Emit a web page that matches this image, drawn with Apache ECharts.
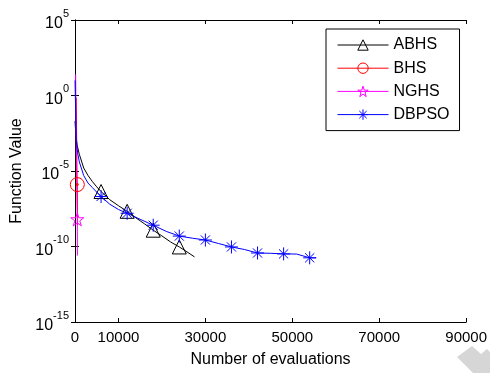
<!DOCTYPE html>
<html>
<head>
<meta charset="utf-8">
<script src="https://cdn.jsdelivr.net/npm/echarts@6/dist/echarts.min.js"></script>
<style>html,body{margin:0;padding:0;background:#fff;}#c{width:490px;height:373px;}</style>
</head>
<body>
<div id="c"></div>
<script>
// ---- data (log10 of function value) ----
const abhsX = [0, 200, 500, 1000, 2000, 3000, 4000, 5000, 6000, 8000, 10000, 12000, 14000, 16000, 18000, 20000, 22000, 24000, 26000, 27500];
const abhsLog = [-1.7, -2.6, -3.3, -3.9, -4.8, -5.3, -5.7, -6.05, -6.36, -6.9, -7.3, -7.67, -8.1, -8.5, -8.92, -9.3, -9.7, -10.03, -10.4, -10.69];
const abhsMarks = [8, 11, 14, 17];

const bhsX = [300, 350, 400, 450, 530, 600];
const bhsLog = [-0.15, -2.0, -3.5, -4.8, -5.9, -8.6];
const bhsMarks = [4];

const nghsX = [150, 250, 350, 450, 530, 560];
const nghsLog = [1.4, -2.0, -5.0, -7.0, -8.2, -10.6];
const nghsMarks = [4];

const dbpsoX = [0, 300, 600, 1000, 2000, 3000, 4000, 5000, 6000, 8000, 10000, 12000, 15000, 18000, 21000, 24000, 27000, 30000, 33000, 36000, 39000, 42000, 45000, 48000, 51000, 54000, 55500];
const dbpsoLog = [1.0, -3.0, -3.8, -4.4, -5.3, -5.8, -6.1, -6.4, -6.69, -7.2, -7.55, -7.8, -8.2, -8.59, -9.0, -9.31, -9.45, -9.57, -9.8, -10.03, -10.2, -10.43, -10.45, -10.49, -10.5, -10.75, -10.75];
const dbpsoMarks = [8, 11, 13, 15, 17, 19, 21, 23, 25];

const xTickValues = [0, 10000, 30000, 50000, 70000, 90000];
const yTickExps = [5, 0, -5, -10, -15];
const legendNames = ['ABHS', 'BHS', 'NGHS', 'DBPSO'];

// ---- chart ----
const FONT = 'Liberation Sans, Arial, Helvetica, sans-serif';
const STAR = 'path://M0,-1 L0.2245,-0.309 L0.951,-0.309 L0.363,0.118 L0.588,0.809 L0,0.382 L-0.588,0.809 L-0.363,0.118 L-0.951,-0.309 L-0.2245,-0.309 Z';
const ASTER = 'path://M0,-1 L0,1 M-1,0 L1,0 M-0.707,-0.707 L0.707,0.707 M-0.707,0.707 L0.707,-0.707';
const colors = { ABHS: '#000000', BHS: '#ff0000', NGHS: '#ff00ff', DBPSO: '#0000ff' };
const CLEAR = 'rgba(0,0,0,0)';

function build(xs, logs, marks) {
  return xs.map((x, i) => {
    const item = { value: [x, Math.pow(10, logs[i])] };
    if (marks.indexOf(i) < 0) item.symbol = 'none';
    return item;
  });
}

function mk(name, symbol, size, xs, logs, marks) {
  const color = colors[name];
  return {
    name: name, type: 'line', data: build(xs, logs, marks),
    symbol: symbol, symbolSize: size, showAllSymbol: true,
    lineStyle: { color: color, width: 1 },
    itemStyle: { color: CLEAR, borderColor: color, borderWidth: 1 },
    emphasis: { disabled: true }, animation: false, z: 3
  };
}

const series = [
  mk('ABHS', 'triangle', 14, abhsX, abhsLog, abhsMarks),
  mk('BHS', 'circle', 14, bhsX, bhsLog, bhsMarks),
  mk('NGHS', STAR, 13, nghsX, nghsLog, nghsMarks),
  mk('DBPSO', ASTER, 13, dbpsoX, dbpsoLog, dbpsoMarks)
];
// red center dot on BHS circle
series.push({
  type: 'scatter', data: [[bhsX[bhsMarks[0]], Math.pow(10, bhsLog[bhsMarks[0]])]],
  symbol: 'circle', symbolSize: 3, itemStyle: { color: '#ff0000' }, silent: true, animation: false, z: 4
});

const gridPos = { left: 75, right: 23, top: 20, bottom: 48 };
const axLine = { show: true, lineStyle: { color: '#000', width: 1 } };

const option = {
  backgroundColor: '#fff',
  animation: false,
  textStyle: { fontFamily: FONT },
  grid: Object.assign({ show: false, containLabel: false }, gridPos),
  legend: {
    data: legendNames.map(n => ({
      name: n,
      itemStyle: { color: CLEAR, borderColor: colors[n], borderWidth: 1 },
      lineStyle: { color: colors[n], width: 1 }
    })),
    orient: 'vertical', left: 326, top: 29,
    itemWidth: 51, itemHeight: 13, itemGap: 7.2,
    padding: [8, 10, 8, 11],
    backgroundColor: '#fff', borderColor: '#000', borderWidth: 1,
    textStyle: { fontFamily: FONT, fontSize: 16, color: '#000' },
    selectedMode: false
  },
  xAxis: [{
    type: 'value', min: 0, max: 90000, position: 'bottom',
    name: 'Number of evaluations', nameLocation: 'middle', nameGap: 30,
    nameTextStyle: { fontFamily: FONT, fontSize: 16, color: '#000' },
    axisLine: axLine,
    axisTick: { show: true, inside: true, length: 4, lineStyle: { color: '#000' }, customValues: xTickValues },
    axisLabel: {
      show: true, color: '#000', fontSize: 15, fontFamily: FONT, margin: 8, customValues: xTickValues,
      formatter: function (v) { return String(v); }
    },
    splitLine: { show: false }
  }, {
    type: 'value', min: 0, max: 90000, position: 'top',
    axisLine: axLine,
    axisTick: { show: true, inside: true, length: 4, lineStyle: { color: '#000' }, customValues: xTickValues },
    axisLabel: { show: false }, splitLine: { show: false }
  }],
  yAxis: [{
    type: 'log', logBase: 10, min: 1e-15, max: 1e5, interval: 5, position: 'left',
    name: 'Function Value', nameLocation: 'middle', nameGap: 50, nameRotate: 90,
    nameTextStyle: { fontFamily: FONT, fontSize: 16, color: '#000' },
    axisLine: axLine,
    axisTick: { show: true, inside: true, length: 4, lineStyle: { color: '#000' } },
    minorTick: { show: false },
    axisLabel: {
      show: true, margin: 6, color: '#000',
      formatter: function (v) {
        const e = Math.round(Math.log10(v));
        return '{b|10}{e|' + e + '}';
      },
      rich: {
        b: { fontSize: 16, fontFamily: FONT, color: '#000', verticalAlign: 'bottom', lineHeight: 24 },
        e: { fontSize: 11, fontFamily: FONT, color: '#000', verticalAlign: 'top', lineHeight: 24 }
      }
    },
    splitLine: { show: false }
  }, {
    type: 'log', logBase: 10, min: 1e-15, max: 1e5, interval: 5, position: 'right',
    axisLine: axLine,
    axisTick: { show: true, inside: true, length: 4, lineStyle: { color: '#000' } },
    axisLabel: { show: false }, splitLine: { show: false }
  }],
  series: series,
  graphic: [{
    type: 'polygon', silent: true, z: -1,
    shape: { points: [[457, 357], [472, 346], [481, 354], [487, 349], [490, 352], [490, 373], [473, 373]] },
    style: { fill: '#d6d6d6' }
  }]
};

const chart = echarts.init(document.getElementById('c'), null, { renderer: 'canvas' });
chart.setOption(option);
</script>
</body>
</html>
